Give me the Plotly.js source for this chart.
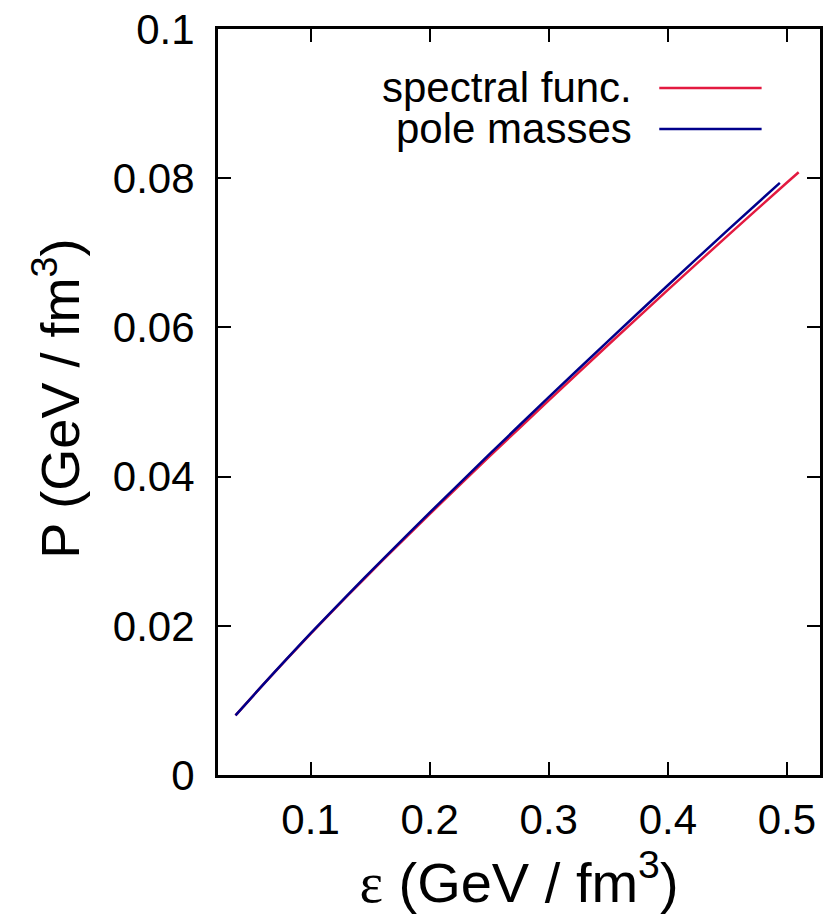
<!DOCTYPE html>
<html>
<head>
<meta charset="utf-8">
<script src="https://cdn.plot.ly/plotly-3.0.1.min.js"></script>
<style>
  html, body { margin: 0; padding: 0; background: #fff; }
  #plot { width: 824px; height: 915px; }
</style>
</head>
<body>
<div id="plot"></div>
<script>
// Equation of state: pressure vs. energy density for two approaches
const epsSpectral = [0.037, 0.06, 0.08, 0.10, 0.13, 0.16, 0.20, 0.25, 0.30, 0.35, 0.40, 0.45, 0.50, 0.5098];
const pSpectral   = [0.0080, 0.01207, 0.01553, 0.01891, 0.02386, 0.02869, 0.03497, 0.04267, 0.05022, 0.05767, 0.06502, 0.07227, 0.07942, 0.0808];

const epsPole = [0.037, 0.06, 0.08, 0.10, 0.13, 0.16, 0.20, 0.25, 0.30, 0.35, 0.40, 0.45, 0.494];
const pPole   = [0.0080, 0.01209, 0.01557, 0.01897, 0.02395, 0.02881, 0.03517, 0.04297, 0.05065, 0.0582, 0.06565, 0.0730, 0.07938];

const seriesNames = ["spectral func.", "pole masses"];
const seriesColors = ["#e31a40", "#00008b"];

const xTicks = [0.1, 0.2, 0.3, 0.4, 0.5];
const yTicks = [0, 0.02, 0.04, 0.06, 0.08, 0.1];

const FONT = "Liberation Sans, Arial, Helvetica, sans-serif";

const traces = [
  { x: epsSpectral, y: pSpectral, name: seriesNames[0], mode: "lines",
    line: { color: seriesColors[0], width: 2.5, shape: "spline", smoothing: 0.6 }, showlegend: false },
  { x: epsPole, y: pPole, name: seriesNames[1], mode: "lines",
    line: { color: seriesColors[1], width: 2.5, shape: "spline", smoothing: 0.6 }, showlegend: false }
];

// key in the upper right: label text followed by a line sample
const keyRows = [0.921, 0.866];
const annotations = seriesNames.map((name, i) => ({
  xref: "paper", yref: "paper", x: 0.69, y: keyRows[i],
  xanchor: "right", yanchor: "middle", showarrow: false,
  borderpad: 0, text: name, font: { family: FONT, size: 42, color: "#000" }
}));
const shapes = seriesNames.map((name, i) => ({
  type: "line", xref: "paper", yref: "paper",
  x0: 0.733, x1: 0.903, y0: keyRows[i], y1: keyRows[i],
  line: { color: seriesColors[i], width: 2.5 }
}));

// vertical axis label, centred on the frame
annotations.push({
  xref: "paper", yref: "paper", x: -0.268, y: 0.504,
  xanchor: "center", yanchor: "middle", showarrow: false, textangle: -90,
  text: 'P (GeV / fm<sup>3</sup>)',
  font: { family: FONT, size: 54, color: "#000" }
});

const axisCommon = {
  showline: true, mirror: "ticks", linecolor: "#000", linewidth: 3,
  ticks: "inside", ticklen: 13, tickwidth: 2, tickcolor: "#000",
  showgrid: false, zeroline: false,
  tickfont: { family: FONT, size: 42, color: "#000" }
};

const layout = {
  width: 824, height: 915,
  paper_bgcolor: "#fff", plot_bgcolor: "#fff",
  margin: { l: 218, r: 4, t: 29, b: 140 },
  showlegend: false,
  xaxis: Object.assign({}, axisCommon, {
    range: [0.0223, 0.5277],
    tickvals: xTicks, ticktext: xTicks.map(String),
    ticklabelstandoff: 6,
    title: {
      text: '<span style="font-family:Liberation Serif">ε</span> (GeV / fm<sup>3</sup>)',
      font: { family: FONT, size: 56, color: "#000" }, standoff: 0
    }
  }),
  yaxis: Object.assign({}, axisCommon, {
    range: [0, 0.1],
    tickvals: yTicks, ticktext: yTicks.map(String),
    ticklabelstandoff: 12
  }),
  annotations: annotations,
  shapes: shapes
};

Plotly.newPlot("plot", traces, layout, { staticPlot: true, displayModeBar: false });
</script>
</body>
</html>
